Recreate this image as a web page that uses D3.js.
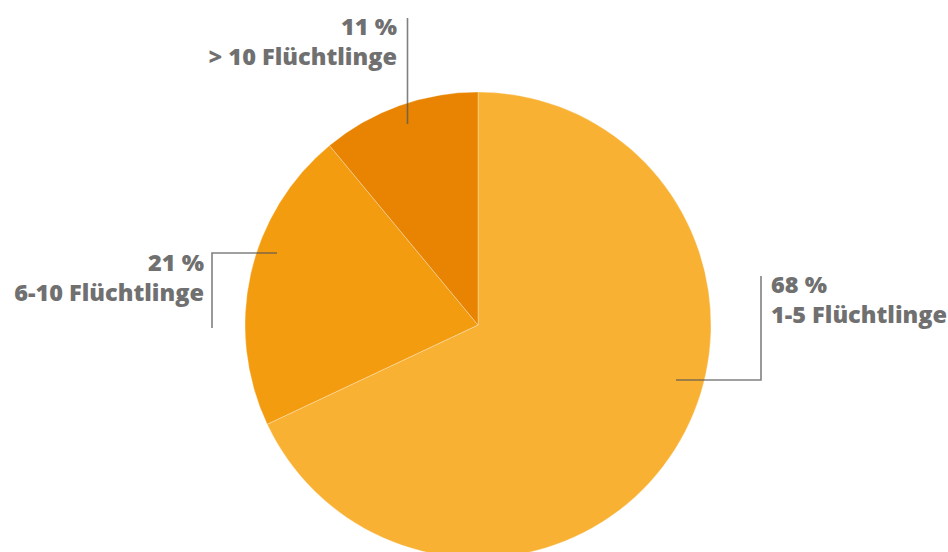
<!DOCTYPE html>
<html><head><meta charset="utf-8">
<script src="https://cdn.jsdelivr.net/npm/d3@7"></script>
<style>html,body{margin:0;padding:0;background:#fff;}svg{display:block;}</style>
</head><body>
<svg id="chart" width="948" height="552"></svg>
<script>
const categories = ["1-5 Flüchtlinge", "6-10 Flüchtlinge", "> 10 Flüchtlinge"];
const values = [68, 21, 11];
const valueLabels = ["68 %", "21 %", "11 %"];
const colors = ["#F8B133", "#F39C0F", "#E88402"];

const svg = d3.select("#chart");
const cx = 478, cy = 325, r = 233;
const g = svg.append("g").attr("transform", `translate(${cx},${cy})`);
const pie = d3.pie().sort(null).value(d => d)(values);
const arc = d3.arc().innerRadius(0).outerRadius(r);
g.selectAll("path").data(pie).join("path")
  .attr("d", arc).attr("fill", (d,i) => colors[i])
  .attr("stroke", "#fff").attr("stroke-opacity", 0.5).attr("stroke-width", 0.6);

const lines = [
  [[676,380],[761,380],[761,276]],
  [[277,253],[212,253],[212,328]],
  [[407.5,124],[407.5,18]]
];
svg.selectAll("path.lead").data(lines).join("path").attr("class","lead")
  .attr("d", d => d3.line()(d)).attr("fill","none")
  .attr("stroke","#555").attr("stroke-opacity",0.75).attr("stroke-width",1.6);

const labels = [
  {x:771, y:293, anchor:"start"},
  {x:204, y:271, anchor:"end"},
  {x:397, y:35, anchor:"end"}
];
const tg = svg.selectAll("text.lab").data(labels).join("text").attr("class","lab")
  .attr("x", d=>d.x).attr("y", d=>d.y).attr("text-anchor", d=>d.anchor)
  .attr("font-family", "'Open Sans', sans-serif").attr("font-weight", 800)
  .attr("font-size", 23.5).attr("fill", "#707070");
tg.append("tspan").attr("x", d=>d.x).text((d,i)=>valueLabels[i]);
tg.append("tspan").attr("x", d=>d.x).attr("dy", 29.5).text((d,i)=>categories[i]);
</script>
</body></html>
